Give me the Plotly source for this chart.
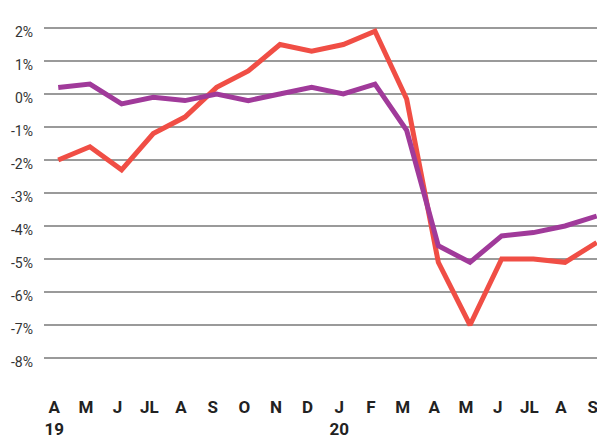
import plotly.graph_objects as go

months = ["A", "M", "J", "JL", "A", "S", "O", "N", "D", "J", "F", "M", "A", "M", "J", "JL", "A", "S"]
years = ["19", "", "", "", "", "", "", "", "", "20", "", "", "", "", "", "", "", ""]
red_values = [-2.0, -1.6, -2.3, -1.2, -0.7, 0.2, 0.7, 1.5, 1.3, 1.5, 1.9, -0.15, -5.1, -7.0, -5.0, -5.0, -5.1, -4.5]
purple_values = [0.2, 0.3, -0.3, -0.1, -0.2, 0.0, -0.2, 0.0, 0.2, 0.0, 0.3, -1.1, -4.6, -5.1, -4.3, -4.2, -4.0, -3.7]
y_ticks = [2, 1, 0, -1, -2, -3, -4, -5, -6, -7, -8]
y_labels = ["2%", "1%", "0%", "-1%", "-2%", "-3%", "-4%", "-5%", "-6%", "-7%", "-8%"]

x = list(range(len(months)))
tick_text = [m + ("<br>" + y if y else "<br> ") for m, y in zip(months, years)]

fig = go.Figure()
fig.add_trace(go.Scatter(x=x, y=red_values, mode="lines",
                         line=dict(color="#F04E45", width=5), hoverinfo="skip"))
fig.add_trace(go.Scatter(x=x, y=purple_values, mode="lines",
                         line=dict(color="#A03A9A", width=5), hoverinfo="skip"))

fig.update_layout(
    width=597, height=438,
    margin=dict(l=44, r=0, t=0, b=53, autoexpand=False),
    paper_bgcolor="white", plot_bgcolor="white",
    showlegend=False,
    xaxis=dict(
        range=[-0.45, 17.01],
        tickvals=x, ticktext=tick_text,
        showgrid=False, zeroline=False, showline=False, ticks="",
        automargin=False, ticklabeloverflow="allow",
        tickfont=dict(family="Roboto, Liberation Sans, sans-serif", size=17, color="#222222", weight="bold"),
        ticklabelstandoff=10, ticklabelshift=-4,
    ),
    yaxis=dict(
        range=[-8.818, 2.848],
        tickvals=y_ticks, ticktext=y_labels,
        showgrid=True, gridcolor="#9a9a9a", gridwidth=1.5,
        zeroline=False, showline=False, ticks="",
        automargin=False,
        tickfont=dict(family="Roboto, sans-serif", size=14, color="#333333"),
        ticklabelstandoff=10, ticklabelshift=4,
    ),
)

fig.write_html(
    "out.html",
    config={"displayModeBar": False, "staticPlot": True},
    post_script="document.body.style.margin='0';document.body.style.overflow='hidden';",
)
